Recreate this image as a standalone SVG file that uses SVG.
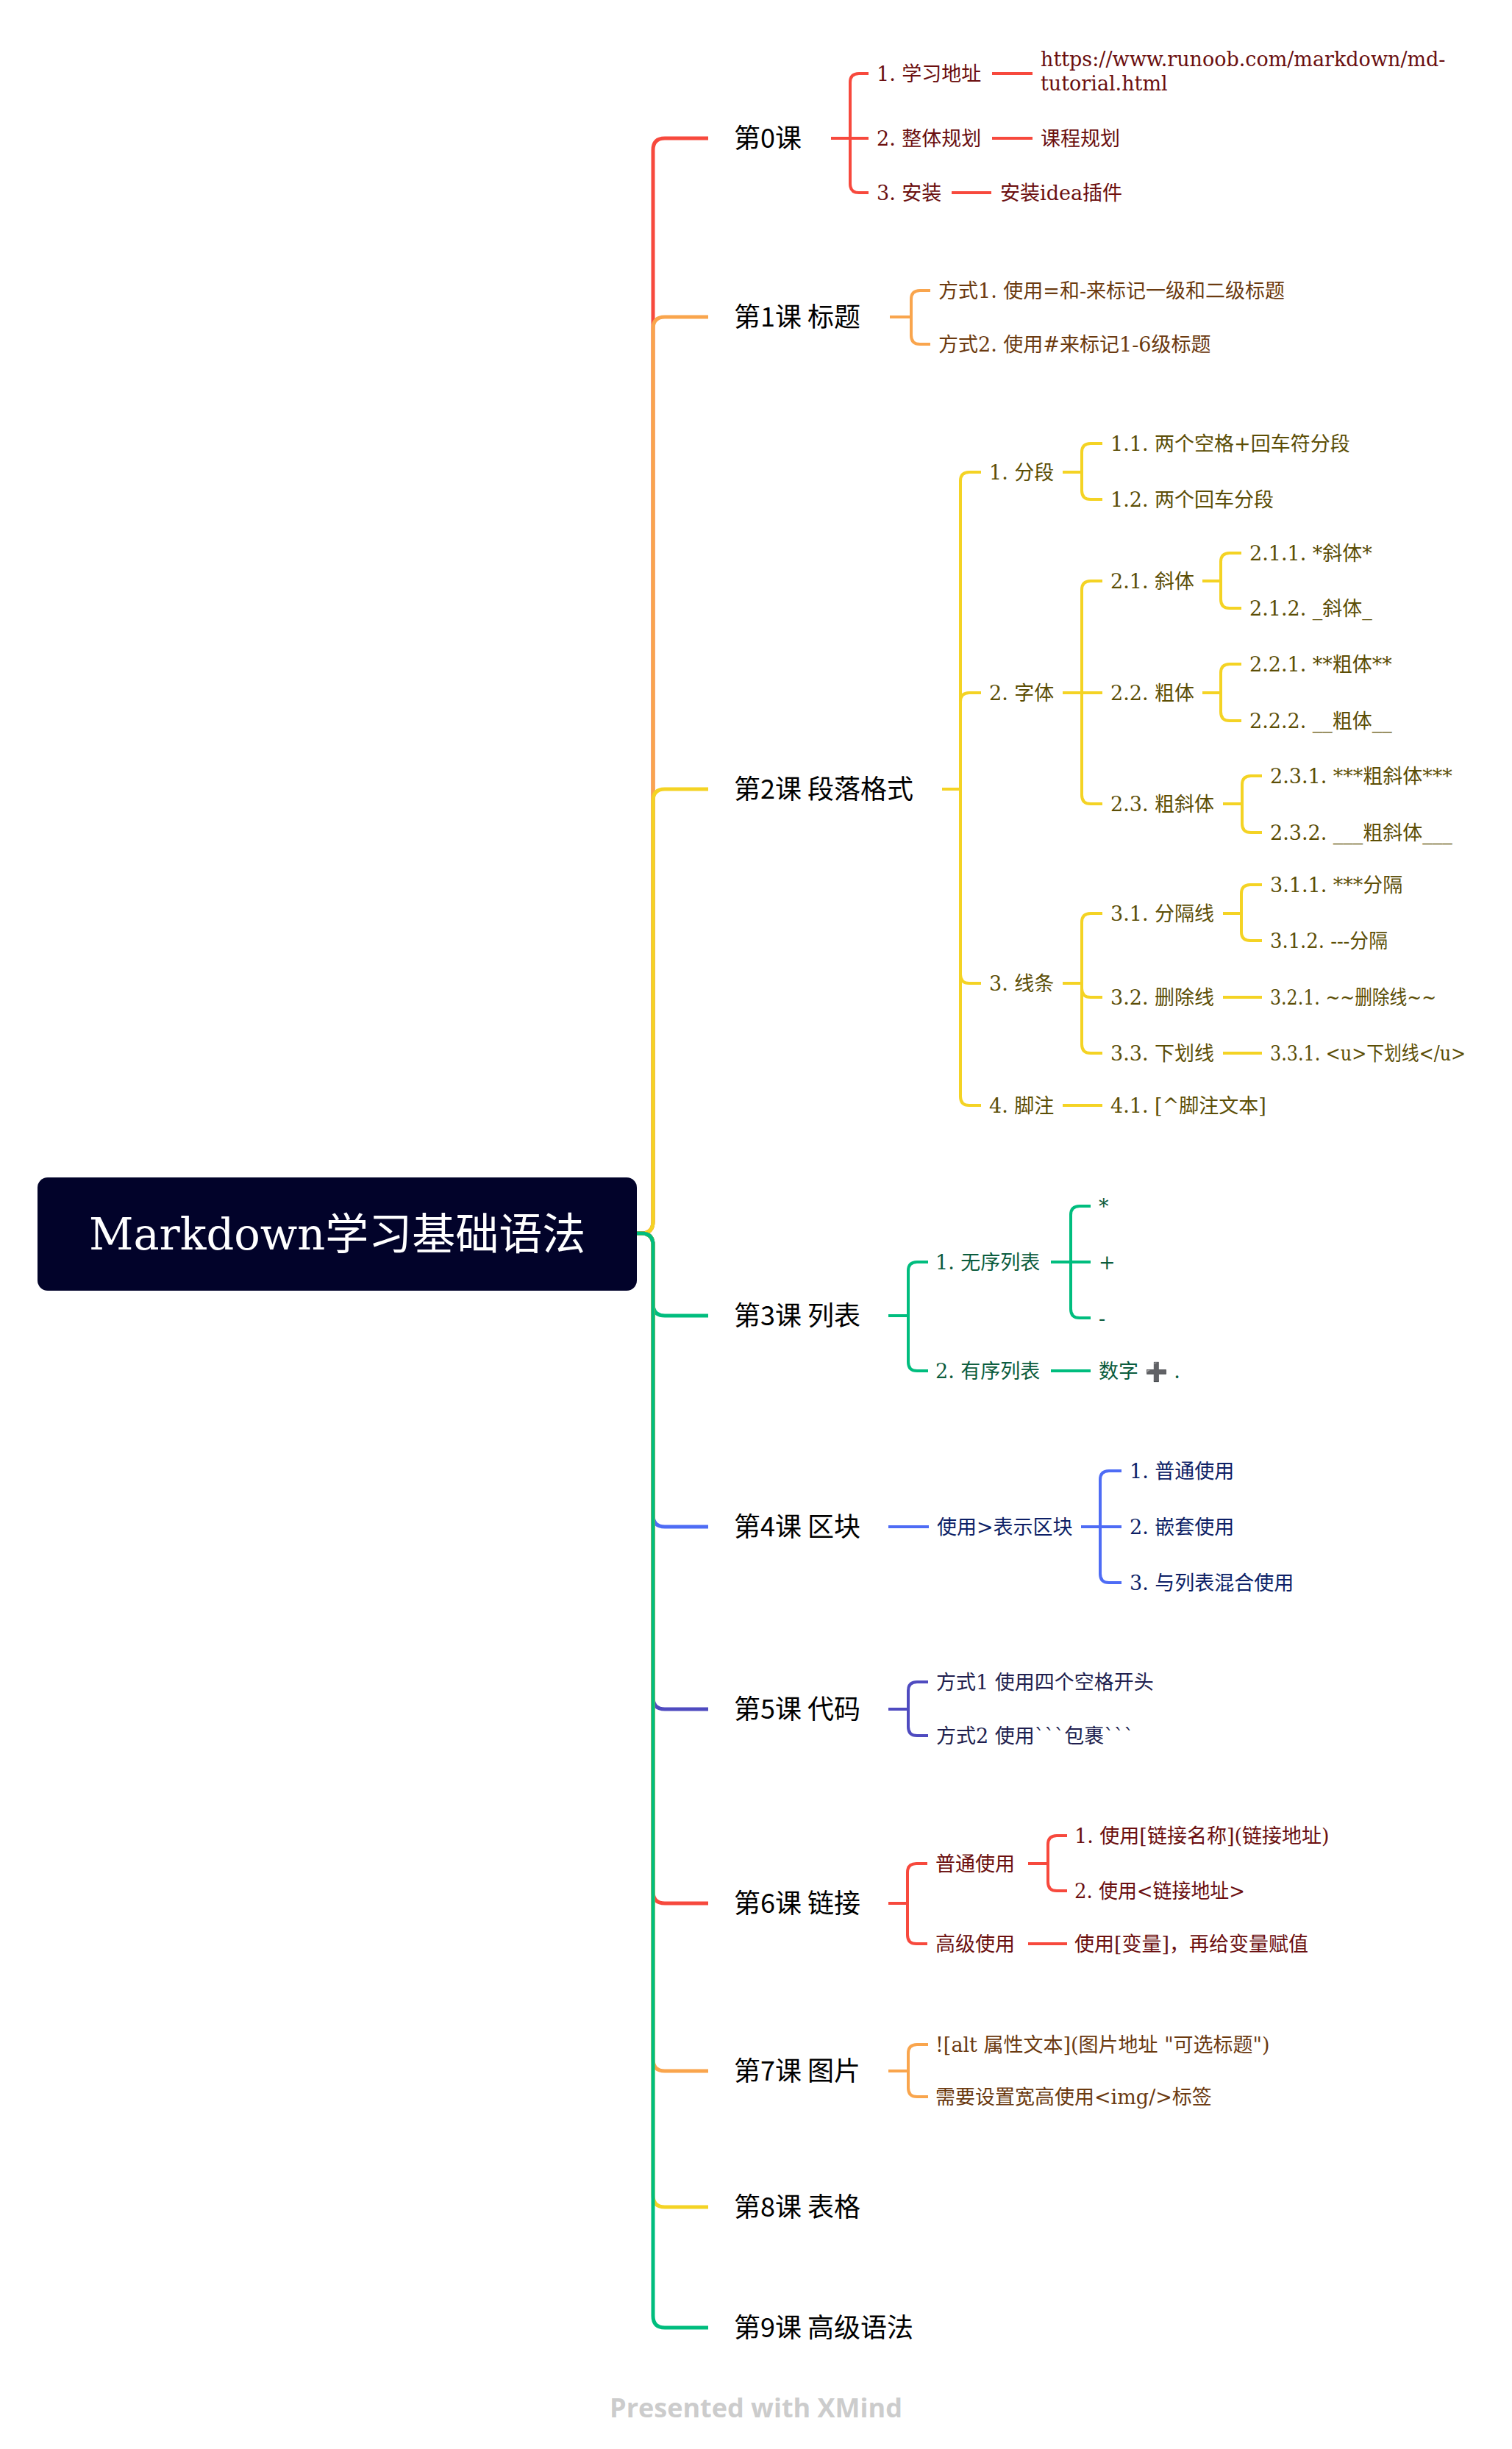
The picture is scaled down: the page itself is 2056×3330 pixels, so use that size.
<svg xmlns="http://www.w3.org/2000/svg" width="2056" height="3330" viewBox="0 0 2056 3330">
<style>
.bg{fill:#ffffff}
.m{fill:none;stroke-width:5;stroke-linecap:butt;stroke-linejoin:round}
.s{fill:none;stroke-width:4;stroke-linecap:butt;stroke-linejoin:round}
.red{stroke:#F7493D}
.ora{stroke:#F9A54D}
.yel{stroke:#F4D324}
.grn{stroke:#00BD7E}
.blu{stroke:#4E6CF5}
.ind{stroke:#4F4BC0}
.t1{font-family:"Noto Sans CJK SC","Noto Sans",sans-serif;font-size:36px;fill:#000000}
.t2{font-family:"DejaVu Serif","Noto Sans CJK SC",serif;font-size:27px}
.tr{fill:#6B0F0F}
.to{fill:#6B3A10}
.ty{fill:#5C4E06}
.tg{fill:#0B5C3D}
.tb{fill:#0D1F66}
.ti{fill:#201E4E}
.root{font-family:"DejaVu Serif","Noto Sans CJK SC",serif;font-size:59px;fill:#ffffff}
.wm{font-family:"Open Sans","Noto Sans",sans-serif;font-size:36px;font-weight:bold;fill:#CCCCCC}
</style>
<rect class="bg" x="0" y="0" width="2056" height="3330"/>
<g id="connectors">
<path class="m red" d="M 866 1677 H 872 Q 888 1677 888 1661 V 204 Q 888 188 904 188 H 963"/>
<path class="m ora" d="M 866 1677 H 872 Q 888 1677 888 1661 V 447 Q 888 431 904 431 H 963"/>
<path class="m yel" d="M 866 1677 H 872 Q 888 1677 888 1661 V 1089 Q 888 1073 904 1073 H 963"/>
<path class="m grn" d="M 866 1677 H 872 Q 888 1677 888 1693 V 1773 Q 888 1789 904 1789 H 963"/>
<path class="m blu" d="M 866 1677 H 872 Q 888 1677 888 1693 V 2060 Q 888 2076 904 2076 H 963"/>
<path class="m ind" d="M 866 1677 H 872 Q 888 1677 888 1693 V 2308 Q 888 2324 904 2324 H 963"/>
<path class="m red" d="M 866 1677 H 872 Q 888 1677 888 1693 V 2572 Q 888 2588 904 2588 H 963"/>
<path class="m ora" d="M 866 1677 H 872 Q 888 1677 888 1693 V 2800 Q 888 2816 904 2816 H 963"/>
<path class="m yel" d="M 866 1677 H 872 Q 888 1677 888 1693 V 2985 Q 888 3001 904 3001 H 963"/>
<path class="m grn" d="M 866 1677 H 872 Q 888 1677 888 1693 V 3149 Q 888 3165 904 3165 H 963"/>
<path class="s red" d="M 1130 188 H 1156"/>
<path class="s red" d="M 1156 188 V 112 Q 1156 100 1168 100 H 1181"/>
<path class="s red" d="M 1156 188 H 1181"/>
<path class="s red" d="M 1156 188 V 250 Q 1156 262 1168 262 H 1181"/>
<path class="s red" d="M 1349 100 H 1404"/>
<path class="s red" d="M 1349 188 H 1404"/>
<path class="s red" d="M 1294 262 H 1348"/>
<path class="s ora" d="M 1210 431 H 1239"/>
<path class="s ora" d="M 1239 431 V 407 Q 1239 395 1251 395 H 1265"/>
<path class="s ora" d="M 1239 431 V 456 Q 1239 468 1251 468 H 1265"/>
<path class="s yel" d="M 1281 1073 H 1306"/>
<path class="s yel" d="M 1306 1073 V 654 Q 1306 642 1318 642 H 1334"/>
<path class="s yel" d="M 1306 1073 V 954 Q 1306 942 1318 942 H 1334"/>
<path class="s yel" d="M 1306 1073 V 1325 Q 1306 1337 1318 1337 H 1334"/>
<path class="s yel" d="M 1306 1073 V 1491 Q 1306 1503 1318 1503 H 1334"/>
<path class="s yel" d="M 1445 642 H 1471"/>
<path class="s yel" d="M 1471 642 V 615 Q 1471 603 1483 603 H 1499"/>
<path class="s yel" d="M 1471 642 V 667 Q 1471 679 1483 679 H 1499"/>
<path class="s yel" d="M 1445 942 H 1471"/>
<path class="s yel" d="M 1471 942 V 802 Q 1471 790 1483 790 H 1499"/>
<path class="s yel" d="M 1471 942 H 1499"/>
<path class="s yel" d="M 1471 942 V 1081 Q 1471 1093 1483 1093 H 1499"/>
<path class="s yel" d="M 1635 790 H 1660"/>
<path class="s yel" d="M 1660 790 V 764 Q 1660 752 1672 752 H 1688"/>
<path class="s yel" d="M 1660 790 V 815 Q 1660 827 1672 827 H 1688"/>
<path class="s yel" d="M 1635 942 H 1660"/>
<path class="s yel" d="M 1660 942 V 915 Q 1660 903 1672 903 H 1688"/>
<path class="s yel" d="M 1660 942 V 968 Q 1660 980 1672 980 H 1688"/>
<path class="s yel" d="M 1663 1093 H 1689"/>
<path class="s yel" d="M 1689 1093 V 1067 Q 1689 1055 1701 1055 H 1716"/>
<path class="s yel" d="M 1689 1093 V 1120 Q 1689 1132 1701 1132 H 1716"/>
<path class="s yel" d="M 1445 1337 H 1471"/>
<path class="s yel" d="M 1471 1337 V 1254 Q 1471 1242 1483 1242 H 1499"/>
<path class="s yel" d="M 1471 1337 V 1344 Q 1471 1356 1483 1356 H 1499"/>
<path class="s yel" d="M 1471 1337 V 1420 Q 1471 1432 1483 1432 H 1499"/>
<path class="s yel" d="M 1663 1242 H 1688"/>
<path class="s yel" d="M 1688 1242 V 1215 Q 1688 1203 1700 1203 H 1716"/>
<path class="s yel" d="M 1688 1242 V 1267 Q 1688 1279 1700 1279 H 1716"/>
<path class="s yel" d="M 1663 1356 H 1716"/>
<path class="s yel" d="M 1663 1432 H 1716"/>
<path class="s yel" d="M 1445 1503 H 1499"/>
<path class="s grn" d="M 1208 1789 H 1235"/>
<path class="s grn" d="M 1235 1789 V 1728 Q 1235 1716 1247 1716 H 1262"/>
<path class="s grn" d="M 1235 1789 V 1852 Q 1235 1864 1247 1864 H 1262"/>
<path class="s grn" d="M 1429 1716 H 1456"/>
<path class="s grn" d="M 1456 1716 V 1652 Q 1456 1640 1468 1640 H 1483"/>
<path class="s grn" d="M 1456 1716 H 1483"/>
<path class="s grn" d="M 1456 1716 V 1780 Q 1456 1792 1468 1792 H 1483"/>
<path class="s grn" d="M 1429 1864 H 1483"/>
<path class="s blu" d="M 1208 2076 H 1263"/>
<path class="s blu" d="M 1470 2076 H 1496"/>
<path class="s blu" d="M 1496 2076 V 2012 Q 1496 2000 1508 2000 H 1525"/>
<path class="s blu" d="M 1496 2076 H 1525"/>
<path class="s blu" d="M 1496 2076 V 2140 Q 1496 2152 1508 2152 H 1525"/>
<path class="s ind" d="M 1208 2324 H 1235"/>
<path class="s ind" d="M 1235 2324 V 2299 Q 1235 2287 1247 2287 H 1262"/>
<path class="s ind" d="M 1235 2324 V 2348 Q 1235 2360 1247 2360 H 1262"/>
<path class="s red" d="M 1208 2588 H 1234"/>
<path class="s red" d="M 1234 2588 V 2546 Q 1234 2534 1246 2534 H 1261"/>
<path class="s red" d="M 1234 2588 V 2631 Q 1234 2643 1246 2643 H 1261"/>
<path class="s red" d="M 1398 2534 H 1425"/>
<path class="s red" d="M 1425 2534 V 2508 Q 1425 2496 1437 2496 H 1451"/>
<path class="s red" d="M 1425 2534 V 2559 Q 1425 2571 1437 2571 H 1451"/>
<path class="s red" d="M 1398 2643 H 1451"/>
<path class="s ora" d="M 1208 2816 H 1235"/>
<path class="s ora" d="M 1235 2816 V 2792 Q 1235 2780 1247 2780 H 1262"/>
<path class="s ora" d="M 1235 2816 V 2839 Q 1235 2851 1247 2851 H 1262"/>
</g>

<g id="root">
<rect x="51" y="1601" width="815" height="154" rx="14" fill="#02032A"/>
<text class="root" x="121" y="1699">Markdown学习基础语法</text>
</g>

<g id="lesson0"><text class="t1" x="998" y="201">第0课</text></g>
<g id="lesson1"><text class="t1" x="998" y="444">第1课 标题</text></g>
<g id="lesson2"><text class="t1" x="998" y="1086">第2课 段落格式</text></g>
<g id="lesson3"><text class="t1" x="998" y="1802">第3课 列表</text></g>
<g id="lesson4"><text class="t1" x="998" y="2089">第4课 区块</text></g>
<g id="lesson5"><text class="t1" x="998" y="2337">第5课 代码</text></g>
<g id="lesson6"><text class="t1" x="998" y="2601">第6课 链接</text></g>
<g id="lesson7"><text class="t1" x="998" y="2829">第7课 图片</text></g>
<g id="lesson8"><text class="t1" x="998" y="3014">第8课 表格</text></g>
<g id="lesson9"><text class="t1" x="998" y="3178">第9课 高级语法</text></g>

<g id="l0-1"><text class="t2 tr" x="1192" y="110">1. 学习地址</text></g>
<g id="l0-1-1"><text class="t2 tr" x="1415" y="90">https://www.runoob.com/markdown/md-</text><text class="t2 tr" x="1415" y="123">tutorial.html</text></g>
<g id="l0-2"><text class="t2 tr" x="1192" y="198">2. 整体规划</text></g>
<g id="l0-2-1"><text class="t2 tr" x="1415" y="198">课程规划</text></g>
<g id="l0-3"><text class="t2 tr" x="1192" y="272">3. 安装</text></g>
<g id="l0-3-1"><text class="t2 tr" x="1360" y="272">安装idea插件</text></g>

<g id="l1-1"><text class="t2 to" x="1276" y="405">方式1. 使用=和-来标记一级和二级标题</text></g>
<g id="l1-2"><text class="t2 to" x="1276" y="478">方式2. 使用#来标记1-6级标题</text></g>

<g id="l2-1"><text class="t2 ty" x="1345" y="652">1. 分段</text></g>
<g id="l2-1-1"><text class="t2 ty" x="1510" y="613">1.1. 两个空格+回车符分段</text></g>
<g id="l2-1-2"><text class="t2 ty" x="1510" y="689">1.2. 两个回车分段</text></g>
<g id="l2-2"><text class="t2 ty" x="1345" y="952">2. 字体</text></g>
<g id="l2-2-1"><text class="t2 ty" x="1510" y="800">2.1. 斜体</text></g>
<g id="l2-2-1-1"><text class="t2 ty" x="1699" y="762">2.1.1. *斜体*</text></g>
<g id="l2-2-1-2"><text class="t2 ty" x="1699" y="837">2.1.2. _斜体_</text></g>
<g id="l2-2-2"><text class="t2 ty" x="1510" y="952">2.2. 粗体</text></g>
<g id="l2-2-2-1"><text class="t2 ty" x="1699" y="913">2.2.1. **粗体**</text></g>
<g id="l2-2-2-2"><text class="t2 ty" x="1699" y="990">2.2.2. __粗体__</text></g>
<g id="l2-2-3"><text class="t2 ty" x="1510" y="1103">2.3. 粗斜体</text></g>
<g id="l2-2-3-1"><text class="t2 ty" x="1727" y="1065">2.3.1. ***粗斜体***</text></g>
<g id="l2-2-3-2"><text class="t2 ty" x="1727" y="1142">2.3.2. ___粗斜体___</text></g>
<g id="l2-3"><text class="t2 ty" x="1345" y="1347">3. 线条</text></g>
<g id="l2-3-1"><text class="t2 ty" x="1510" y="1252">3.1. 分隔线</text></g>
<g id="l2-3-1-1"><text class="t2 ty" x="1727" y="1213">3.1.1. ***分隔</text></g>
<g id="l2-3-1-2"><text class="t2 ty" x="1727" y="1289" textLength="160" lengthAdjust="spacingAndGlyphs">3.1.2. ---分隔</text></g>
<g id="l2-3-2"><text class="t2 ty" x="1510" y="1366">3.2. 删除线</text></g>
<g id="l2-3-2-1"><text class="t2 ty" x="1727" y="1366" textLength="226" lengthAdjust="spacingAndGlyphs">3.2.1. ~~删除线~~</text></g>
<g id="l2-3-3"><text class="t2 ty" x="1510" y="1442">3.3. 下划线</text></g>
<g id="l2-3-3-1"><text class="t2 ty" x="1727" y="1442" textLength="266" lengthAdjust="spacingAndGlyphs">3.3.1. &lt;u&gt;下划线&lt;/u&gt;</text></g>
<g id="l2-4"><text class="t2 ty" x="1345" y="1513">4. 脚注</text></g>
<g id="l2-4-1"><text class="t2 ty" x="1510" y="1513">4.1. [^脚注文本]</text></g>

<g id="l3-1"><text class="t2 tg" x="1272" y="1726">1. 无序列表</text></g>
<g id="l3-1-1"><text class="t2 tg" x="1494" y="1650">*</text></g>
<g id="l3-1-2"><text class="t2 tg" x="1494" y="1726">+</text></g>
<g id="l3-1-3"><text class="t2 tg" x="1494" y="1802">-</text></g>
<g id="l3-2"><text class="t2 tg" x="1272" y="1874">2. 有序列表</text></g>
<g id="l3-2-1"><text class="t2 tg" x="1494" y="1874">数字 <tspan fill="#4A4A4A" font-family="DejaVu Sans" font-weight="bold" font-size="25">➕</tspan> .</text></g>

<g id="l4-1"><text class="t2 tb" x="1274" y="2086">使用&gt;表示区块</text></g>
<g id="l4-1-1"><text class="t2 tb" x="1536" y="2010">1. 普通使用</text></g>
<g id="l4-1-2"><text class="t2 tb" x="1536" y="2086">2. 嵌套使用</text></g>
<g id="l4-1-3"><text class="t2 tb" x="1536" y="2162">3. 与列表混合使用</text></g>

<g id="l5-1"><text class="t2 ti" x="1273" y="2297">方式1 使用四个空格开头</text></g>
<g id="l5-2"><text class="t2 ti" x="1273" y="2370">方式2 使用```包裹```</text></g>

<g id="l6-1"><text class="t2 tr" x="1272" y="2544">普通使用</text></g>
<g id="l6-1-1"><text class="t2 tr" x="1461" y="2506">1. 使用[链接名称](链接地址)</text></g>
<g id="l6-1-2"><text class="t2 tr" x="1461" y="2581" textLength="232" lengthAdjust="spacingAndGlyphs">2. 使用&lt;链接地址&gt;</text></g>
<g id="l6-2"><text class="t2 tr" x="1272" y="2653">高级使用</text></g>
<g id="l6-2-1"><text class="t2 tr" x="1461" y="2653">使用[变量]，再给变量赋值</text></g>

<g id="l7-1"><text class="t2 to" x="1272" y="2790">![alt 属性文本](图片地址 "可选标题")</text></g>
<g id="l7-2"><text class="t2 to" x="1272" y="2861">需要设置宽高使用&lt;img/&gt;标签</text></g>

<g id="watermark"><text class="wm" x="1028" y="3287" text-anchor="middle">Presented with XMind</text></g>
</svg>
